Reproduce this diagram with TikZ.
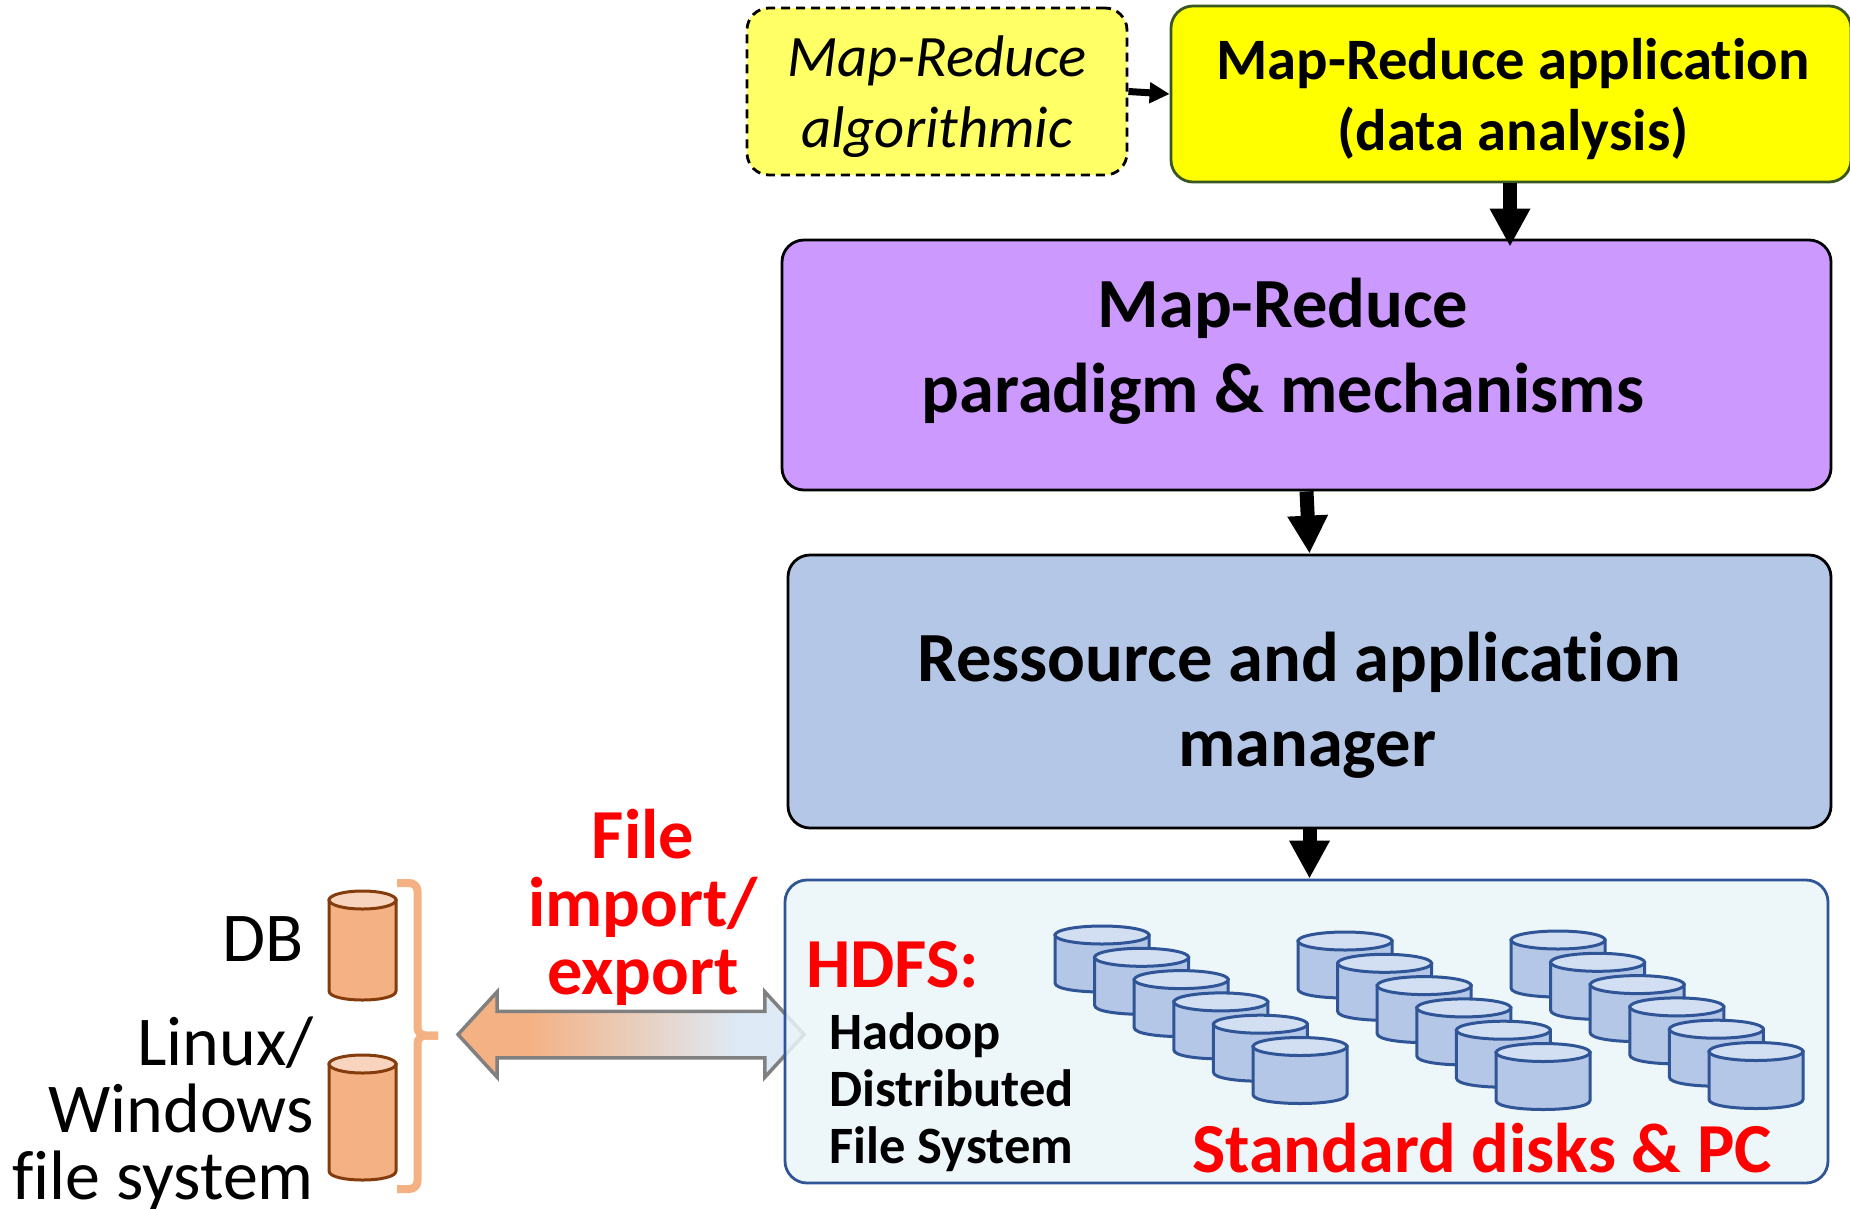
\documentclass[tikz,border=0pt]{standalone}
\usepackage{fontspec}
\setmainfont[Ligatures=CommonOff]{Carlito}
\usetikzlibrary{arrows.meta,shapes.arrows}
\definecolor{algofill}{HTML}{FFFF66}
\definecolor{appfill}{HTML}{FFFF00}
\definecolor{appborder}{HTML}{385723}
\definecolor{paradigmfill}{HTML}{CC99FF}
\definecolor{managerfill}{HTML}{B4C7E7}
\definecolor{hdfsfill}{HTML}{EAF4F8}
\definecolor{hdfsborder}{HTML}{2F5597}
\definecolor{disktop}{HTML}{D2DEF2}
\definecolor{oilfill}{HTML}{F4B183}
\definecolor{oiltop}{HTML}{F8D3BD}
\definecolor{oilborder}{HTML}{843C0C}
\definecolor{fadeend}{HTML}{DEEBF7}
\definecolor{labelred}{HTML}{FF0000}
\pgfdeclarehorizontalshading{arrowfade}{100bp}{color(0bp)=(oilfill); color(35bp)=(oilfill); color(66bp)=(fadeend); color(100bp)=(fadeend)}
\newcommand{\fs}[2]{\fontsize{#1}{#2}\selectfont}
% x, y, width, height, body, top, border
\newcommand{\drawdisk}[7]{
    \begin{scope}[shift={(#1,#2)}]
        \draw [line width=3pt,draw=#7,fill=#5] (0,9) -- (0,#4-9) .. controls (0,#4+3) and (#3,#4+3) .. (#3,#4-9) -- (#3,9) -- cycle;
        \draw [line width=3pt,draw=#7,fill=#6] (#3/2,9) ellipse [x radius=#3/2,y radius=9];
    \end{scope}
}
\tikzset{
    block/.style={rectangle,rounded corners=22pt,inner sep=0pt,line width=2.8pt,draw=black},
    flow/.style={line width=14pt,-{Triangle[length=38pt,width=38pt]}},
    boxlabel/.style={font=\fs{70.5}{85}\bfseries,align=center,inner sep=0pt},
    toplabel/.style={align=center,inner sep=0pt},
    redlabel/.style={font=\fs{70.3}{68}\bfseries,text=labelred,align=center,inner sep=0pt},
    sidelabel/.style={font=\fs{70}{67},align=right,inner sep=0pt}
}
\begin{document}
\begin{tikzpicture}[x=1pt,y=-1pt]
    \useasboundingbox (0,0) rectangle (1850,1208);

    \node [double arrow,shade,shading=arrowfade,draw=gray,line width=3.5pt,inner xsep=0pt,inner ysep=21.5pt,
        minimum height=346pt,double arrow head extend=19.5pt,double arrow tip angle=95] (fileflow) at (631,1034.5) {};

    \node [block,fill=algofill,dash pattern=on 9pt off 6pt,minimum width=380pt,minimum height=167pt] (algo) at (937,91.5) {};
    \node [toplabel,font=\fs{58.7}{71}\itshape] (algotext) at (937,97) {Map-Reduce\\algorithmic};
    \node [block,fill=appfill,draw=appborder,minimum width=680pt,minimum height=176pt] (app) at (1511,94) {};
    \node [toplabel,font=\fs{58.7}{71}\bfseries] (apptext) at (1513,99.5) {Map-Reduce application\\(data analysis)};
    \node [block,fill=paradigmfill,minimum width=1049pt,minimum height=250pt] (paradigm) at (1306.5,365) {};
    \node [boxlabel] (paradigmtext) at (1283,351.5) {Map-Reduce\\paradigm \& mechanisms};
    \node [block,fill=managerfill,minimum width=1043pt,minimum height=273pt] (manager) at (1309.5,691.5) {};
    \node [boxlabel] (managertext) at (1307,705.5) {Ressource and application\hspace*{16pt}\\manager};
    \node [block,fill=hdfsfill,fill opacity=.85,draw=hdfsborder,minimum width=1043pt,minimum height=303pt] (hdfs) at (1306.5,1031.5) {};

    \draw [line width=7pt,-{Triangle[length=20pt,width=20pt]}] (algo.east) -- (app.west);
    \draw [flow,shorten >=-8pt] ([xshift=-1pt]app.south) -- ([xshift=-1pt]app.south |- paradigm.north);
    \draw [flow] (paradigm.south) -- (manager.north);
    \draw [flow] (manager.south) -- (manager.south |- hdfs.north);

    \foreach \gx/\gy in {1055/926,1298/932,1511/931}
        \foreach \n in {0,...,5}
            \drawdisk{\gx+\n*39.6}{\gy+\n*22.3}{94}{66}{managerfill}{disktop}{hdfsborder};

    \drawdisk{329}{891}{67}{109}{oilfill}{oiltop}{oilborder};
    \drawdisk{329}{1055}{67}{125}{oilfill}{oiltop}{oilborder};

    \draw [oilfill,line width=8pt,rounded corners=8pt] (397,883) -| (417.5,1035.5) -- (438,1035.5);
    \draw [oilfill,line width=8pt,rounded corners=8pt] (397,1189) -| (417.5,1035.5) -- (438,1035.5);

    \node [sidelabel,anchor=east] (dblabel) at (304,939) {DB};
    \node [sidelabel,anchor=east] (fslabel) at (314,1114) {Linux/\\Windows\\file system};
    \node [redlabel] (filelabel) at (643,907) {File\\import/\\export};
    \node [redlabel,anchor=west] (hdfslabel) at (806,965) {HDFS:};
    \node [font=\fs{52.5}{57}\bfseries,align=left,inner sep=0pt,anchor=west] (hadooplabel) at (829,1092.5) {Hadoop\\Distributed\\File System};
    \node [redlabel] (pclabel) at (1482,1148) {Standard disks \& PC};
\end{tikzpicture}
\end{document}
